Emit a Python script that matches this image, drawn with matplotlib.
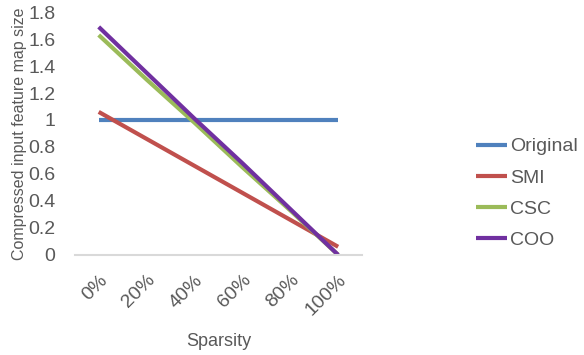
import matplotlib.pyplot as plt

sparsity = ["0%", "20%", "40%", "60%", "80%", "100%"]
original = [1, 1, 1, 1, 1, 1]
smi = [1.06, 0.86, 0.66, 0.46, 0.26, 0.06]
csc = [1.63, 1.30, 0.98, 0.65, 0.33, 0.0]
coo = [1.69, 1.35, 1.01, 0.68, 0.34, 0.0]

grey = "#595959"
plt.rcParams["font.family"] = ["Liberation Sans", "DejaVu Sans"]

fig = plt.figure(figsize=(5.84, 3.55), dpi=100)
ax = fig.add_axes([0.128, 0.282, 0.492, 0.684])

x = range(len(sparsity))
ax.plot(x, original, color="#4F81BD", lw=3, label="Original", solid_capstyle="butt")
ax.plot(x, smi, color="#C0504D", lw=3, label="SMI", solid_capstyle="butt")
ax.plot(x, csc, color="#9BBB59", lw=3, label="CSC", solid_capstyle="butt")
ax.plot(x, coo, color="#7030A0", lw=3, label="COO", solid_capstyle="butt")

ax.set_xlim(-0.5, len(sparsity) - 0.5)
ax.set_ylim(0, 1.8)
ax.set_yticks([0, 0.2, 0.4, 0.6, 0.8, 1, 1.2, 1.4, 1.6, 1.8])
ax.set_yticklabels(["0", "0.2", "0.4", "0.6", "0.8", "1", "1.2", "1.4", "1.6", "1.8"])
ax.set_xticks(list(x))
ax.set_xticklabels(sparsity, rotation=45, ha="right", rotation_mode="anchor")
ax.tick_params(axis="both", length=0, labelsize=14, colors=grey)
ax.tick_params(axis="y", pad=14)
ax.tick_params(axis="x", pad=12)

for s in ["top", "right", "left"]:
    ax.spines[s].set_visible(False)
ax.spines["bottom"].set_color("#d9d9d9")
ax.spines["bottom"].set_linewidth(1.5)

ax.set_xlabel("Sparsity", fontsize=13, color=grey, labelpad=10)
ax.set_ylabel("Compressed input feature map size", fontsize=11.5, color=grey, labelpad=1)

leg = fig.legend(loc="center left", bbox_to_anchor=(0.815, 0.455), frameon=False,
                 fontsize=14, handlelength=1.6, handletextpad=0.15, labelspacing=0.7,
                 borderpad=0, borderaxespad=0)
for t in leg.get_texts():
    t.set_color(grey)

fig.savefig("out.png", dpi=100)
